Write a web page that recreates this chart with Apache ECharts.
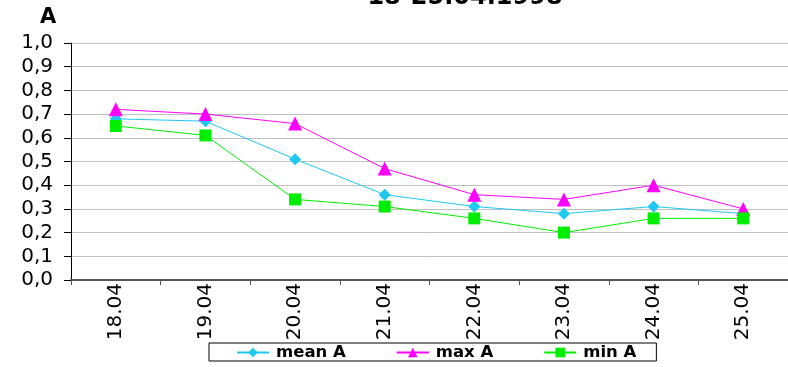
<!DOCTYPE html>
<html><head><meta charset="utf-8">
<script src="https://cdn.jsdelivr.net/npm/echarts@6/dist/echarts.min.js"></script>
<style>html,body{margin:0;padding:0;background:#fff}#c{width:788px;height:367px}</style>
</head><body><div id="c"></div>
<script>
const categories = ['18.04','19.04','20.04','21.04','22.04','23.04','24.04','25.04'];
const meanA = [0.68,0.67,0.51,0.36,0.31,0.28,0.31,0.28];
const maxA = [0.72,0.70,0.66,0.47,0.36,0.34,0.40,0.30];
const minA = [0.65,0.61,0.34,0.31,0.26,0.20,0.26,0.26];
const titleText = '18-25.04.1998';
const unitText = 'A';

const chart = echarts.init(document.getElementById('c'));
const F = 'DejaVu Sans, Verdana, sans-serif';
chart.setOption({
  animation:false,
  title:[
    {text:titleText,left:460,top:-19,textAlign:'center',textStyle:{fontFamily:F,fontWeight:'bold',fontSize:24,color:'#000'}},
    {text:unitText,left:35,top:2,textStyle:{fontFamily:F,fontWeight:'bold',fontSize:21,color:'#000'}}
  ],
  grid:{left:71,top:43,right:-3,bottom:87,containLabel:false},
  legend:{
    left:209,top:343,width:443,height:19,
    padding:[1,20,0,27],itemGap:50,
    borderColor:'#000',borderWidth:1,
    itemWidth:32,itemHeight:12,
    textStyle:{fontFamily:F,fontWeight:'bold',fontSize:16.5,color:'#000',padding:[0,0,0,2]},
    data:['mean A','max A','min A']
  },
  xAxis:{
    type:'category',data:categories,boundaryGap:true,
    axisLine:{lineStyle:{color:'#555',width:2}},
    axisTick:{show:true,length:5,lineStyle:{color:'#555'}},
    axisLabel:{rotate:90,fontFamily:F,fontSize:20,color:'#000',margin:3}
  },
  yAxis:{
    type:'value',min:0,max:1,interval:0.1,
    axisLine:{show:true,lineStyle:{color:'#000',width:1}},
    axisTick:{show:true,length:7,lineStyle:{color:'#000'}},
    splitLine:{lineStyle:{color:'#c0c0c0',width:1}},
    axisLabel:{fontFamily:F,fontSize:20,color:'#000',margin:18,formatter:v=>v.toFixed(1).replace('.',',')}
  },
  series:[
    {name:'mean A',type:'line',data:meanA,symbol:'diamond',symbolSize:12,
     lineStyle:{color:'#1ec8f0',width:1},itemStyle:{color:'#1ec8f0'}},
    {name:'max A',type:'line',data:maxA,symbol:'triangle',symbolSize:14,
     lineStyle:{color:'#ff00ff',width:1},itemStyle:{color:'#ff00ff'}},
    {name:'min A',type:'line',data:minA,symbol:'rect',symbolSize:12,
     lineStyle:{color:'#00ee00',width:1},itemStyle:{color:'#00ee00'}}
  ]
});
</script></body></html>
